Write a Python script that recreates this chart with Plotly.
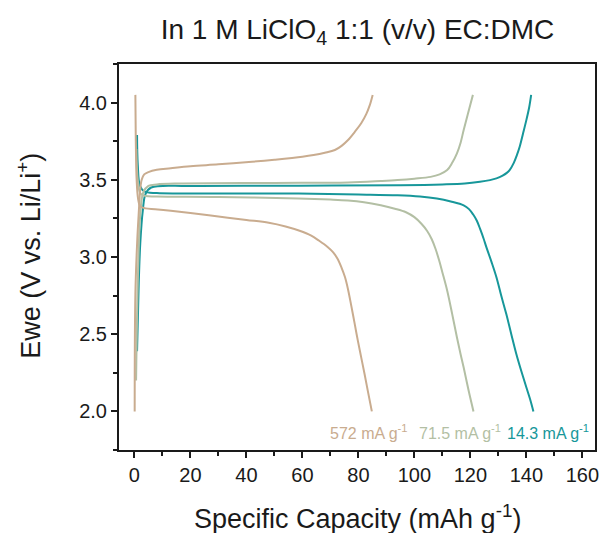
import plotly.graph_objects as go

# ---------------- data ----------------
rates = ["14.3 mA g<sup>-1</sup>", "71.5 mA g<sup>-1</sup>", "572 mA g<sup>-1</sup>"]
colors = ["#17979A", "#B3BFA4", "#C9AC8F"]

# 14.3 mA g-1
teal_charge_x = [0.95, 1.55, 2.1, 3.0, 4.0, 6.0, 20, 58.6, 95, 110, 118, 123.4, 127, 129.3, 131.5, 133,
                 134, 135.5, 136.6, 137.6, 138.8, 140, 141, 141.7]
teal_charge_y = [2.39, 2.83, 3.09, 3.30, 3.41, 3.45, 3.46, 3.462, 3.465, 3.47, 3.476, 3.487, 3.498, 3.509,
                 3.527, 3.545, 3.563, 3.61, 3.66, 3.714, 3.80, 3.888, 3.97, 4.05]
teal_dis_x = [0.95, 1.2, 2.0, 3.5, 8, 20, 58.6, 80, 94, 102, 108, 113, 117.6, 119.5, 121, 122.3, 123.5,
              124.7, 125.7, 127.5, 129.3, 131, 132.8, 134.6, 136.4, 138.2, 140, 141.3, 142.5]
teal_dis_y = [3.79, 3.6, 3.46, 3.425, 3.414, 3.412, 3.411, 3.405, 3.40, 3.392, 3.379, 3.36, 3.335, 3.31,
              3.275, 3.235, 3.18, 3.12, 3.064, 2.97, 2.869, 2.75, 2.632, 2.50, 2.372, 2.26, 2.155, 2.08, 2.0]

# 71.5 mA g-1
sage_charge_x = [0.6, 1.3, 2.2, 3.2, 5, 8, 16, 50, 76.3, 88, 94, 100, 105.8, 109, 111.7, 113.5, 115.2,
                 116.5, 117.6, 119, 120.9]
sage_charge_y = [2.2, 2.9, 3.3, 3.42, 3.46, 3.47, 3.476, 3.48, 3.483, 3.492, 3.498, 3.507, 3.519, 3.535,
                 3.563, 3.61, 3.671, 3.74, 3.823, 3.92, 4.05]
sage_dis_x = [0.7, 1.2, 2.2, 4, 8, 30, 58.6, 70, 76.3, 82, 88, 93, 97, 100, 102.5, 104.5, 106.2,
              107.6, 108.8, 110, 111.7, 113.5, 115.2, 116.5, 117.6, 119.3, 121.1]
sage_dis_y = [3.7, 3.5, 3.41, 3.395, 3.392, 3.389, 3.379, 3.372, 3.366, 3.355, 3.335, 3.313, 3.29, 3.258,
              3.215, 3.17, 3.115, 3.05, 2.98, 2.90, 2.783, 2.63, 2.479, 2.37, 2.284, 2.14, 2.0]

# 572 mA g-1
tan_charge_x = [0.1, 0.35, 1.0, 1.6, 2.0, 2.6, 3.5, 5, 8, 13, 20, 30, 42, 50, 60, 64, 68, 71.6, 74,
                76.3, 78.7, 81, 82.8, 84, 85.1]
tan_charge_y = [2.0, 2.76, 3.1, 3.3, 3.42, 3.50, 3.535, 3.55, 3.565, 3.575, 3.588, 3.60, 3.617, 3.63,
                3.649, 3.66, 3.675, 3.693, 3.72, 3.758, 3.81, 3.866, 3.925, 3.98, 4.05]
tan_dis_x = [0.35, 0.5, 0.8, 1.3, 2, 4, 7.4, 13, 20, 30, 40, 48, 54, 59, 63, 66, 69, 71, 72.5, 74,
             75.2, 76.3, 77.5, 78.7, 79.8, 81, 82.2, 83.5, 84.8]
tan_dis_y = [4.05, 3.75, 3.5, 3.38, 3.33, 3.315, 3.31, 3.30, 3.285, 3.262, 3.24, 3.222, 3.198, 3.17,
             3.14, 3.105, 3.065, 3.03, 2.99, 2.93, 2.87, 2.79, 2.68, 2.565, 2.458, 2.35, 2.242, 2.12, 2.0]

series = [
    (teal_charge_x, teal_charge_y, teal_dis_x, teal_dis_y),
    (sage_charge_x, sage_charge_y, sage_dis_x, sage_dis_y),
    (tan_charge_x, tan_charge_y, tan_dis_x, tan_dis_y),
]

x_ticks = [0, 20, 40, 60, 80, 100, 120, 140, 160]
y_ticks = [2.0, 2.5, 3.0, 3.5, 4.0]

FONT = "Arial, Liberation Sans, sans-serif"
INK = "#1a1a1a"

fig = go.Figure()
for (cx, cy, dx, dy), name, col in zip(series, rates, colors):
    for xs, ys in ((cx, cy), (dx, dy)):
        fig.add_trace(go.Scatter(x=xs, y=ys, mode="lines", name=name,
                                 line=dict(color=col, width=2, shape="spline", smoothing=1.0),
                                 showlegend=False))

# rate labels
label_pos = [(552, rates[0], colors[0]),
             (463, rates[1], colors[1]),
             (371, rates[2], colors[2])]
for px, txt, col in label_pos:
    fig.add_annotation(x=(px - 119) / 480, y=1 - (432 - 64) / 386, xref="paper", yref="paper",
                       text=txt, showarrow=False, xanchor="center", yanchor="middle",
                       font=dict(family=FONT, size=16, color=col))

axis_common = dict(showline=True, linecolor=INK, linewidth=2, mirror=True,
                   ticks="outside", ticklen=6, tickwidth=2, tickcolor=INK,
                   showgrid=False, zeroline=False,
                   tickfont=dict(family=FONT, size=20, color=INK))

fig.update_xaxes(range=[-5.5, 164.5], tickvals=x_ticks,
                 minor=dict(ticks="outside", ticklen=4, tickwidth=2, tickcolor=INK, dtick=10, tick0=0),
                 **axis_common)
fig.update_yaxes(range=[1.75, 4.25], tickvals=y_ticks, tickformat=".1f",
                 minor=dict(ticks="outside", ticklen=4, tickwidth=2, tickcolor=INK, dtick=0.25, tick0=0),
                 **axis_common)

# axis titles as annotations for precise placement
fig.add_annotation(text="Specific Capacity (mAh g<sup>-1</sup>)", xref="paper", yref="paper",
                   x=0.5, y=-(517 - 450) / 386, showarrow=False, xanchor="center", yanchor="middle",
                   font=dict(family=FONT, size=27, color=INK))
fig.add_annotation(text="Ewe (V vs. Li/Li<sup>+</sup>)", xref="paper", yref="paper",
                   x=-(119 - 28) / 480, y=1 - (256 - 64) / 386, showarrow=False, textangle=-90,
                   xanchor="center", yanchor="middle",
                   font=dict(family=FONT, size=27, color=INK))

fig.update_layout(
    width=605, height=533,
    margin=dict(l=119, r=6, t=64, b=83),
    paper_bgcolor="white", plot_bgcolor="white",
    title=dict(text="In 1 M LiClO<sub>4</sub> 1:1 (v/v) EC:DMC", x=357.5 / 605, xanchor="center",
               y=1 - 29 / 533, yanchor="middle",
               font=dict(family=FONT, size=28, color=INK)),
)

fig.write_html("out.html")
